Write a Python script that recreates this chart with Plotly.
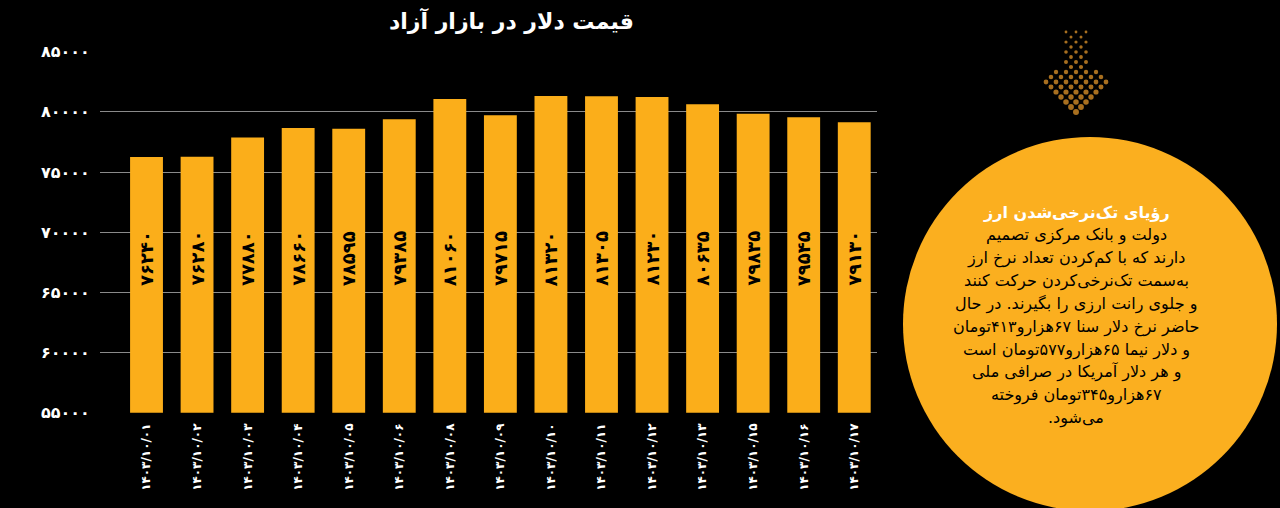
import plotly.graph_objects as go

W, H = 1280, 508

dates = ["۱۴۰۳/۱۰/۰۱", "۱۴۰۳/۱۰/۰۲", "۱۴۰۳/۱۰/۰۳", "۱۴۰۳/۱۰/۰۴", "۱۴۰۳/۱۰/۰۵",
         "۱۴۰۳/۱۰/۰۶", "۱۴۰۳/۱۰/۰۸", "۱۴۰۳/۱۰/۰۹", "۱۴۰۳/۱۰/۱۰", "۱۴۰۳/۱۰/۱۱",
         "۱۴۰۳/۱۰/۱۲", "۱۴۰۳/۱۰/۱۳", "۱۴۰۳/۱۰/۱۵", "۱۴۰۳/۱۰/۱۶", "۱۴۰۳/۱۰/۱۷"]
prices = [76240, 76280, 77880, 78660, 78595, 79385, 81060, 79715, 81320, 81305,
          81230, 80635, 79835, 79545, 79130]
y_ticks = [55000, 60000, 65000, 70000, 75000, 80000, 85000]

title_text = "قیمت دلار در بازار آزاد"
box_title = "رؤیای تک\u200cنرخی\u200cشدن ارز"
box_lines = [
    "دولت و بانک مرکزی تصمیم",
    "دارند که با کم\u200cکردن تعداد نرخ ارز",
    "به\u200cسمت تک\u200cنرخی\u200cکردن حرکت کنند",
    "و جلوی رانت ارزی را بگیرند. در حال",
    "حاضر نرخ دلار سنا ۶۷هزارو۴۱۳تومان",
    "و دلار نیما ۶۵هزارو۵۷۷تومان است",
    "و هر دلار آمریکا در صرافی ملی",
    "۶۷هزارو۳۴۵تومان فروخته",
    "می\u200cشود.",
]

FA = str.maketrans("0123456789", "۰۱۲۳۴۵۶۷۸۹")
def fa(n):
    return str(n).translate(FA)

def rtl(s):
    return "\u202b" + s + "\u202c"

BAR = "#FBAE1A"
FONT = "DejaVu Sans"

def px(x):
    return x / W
def py(y):
    return (H - y) / H

idx = list(range(len(prices)))

fig = go.Figure()
fig.add_trace(go.Bar(x=idx, y=prices, marker=dict(color=BAR, line=dict(width=0)),
                     hoverinfo="skip", showlegend=False))

# decorative dotted arrow
ax_pts, ay_pts, asz = [], [], []
cx = 1076
for j in range(0, 18):
    yy = 32 + 5 * j
    for k in range(-8, 9):
        if (k + j) % 2:
            continue
        xx = cx + 5 * k
        d = abs(xx - cx)
        inside = False
        if d <= 10 and yy <= 72:
            inside = True
        if yy >= 72:
            lim = min(25 + (yy - 72), 36 - max(0, yy - 82))
            if d <= lim:
                inside = True
        if inside:
            ax_pts.append(xx)
            ay_pts.append(yy)
            asz.append(2.8 + (yy - 32) / 86 * 3.4)
fig.add_trace(go.Scatter(x=ax_pts, y=ay_pts, mode="markers", xaxis="x2", yaxis="y2",
                         marker=dict(size=asz, color="#F09E2C", line=dict(width=0)),
                         hoverinfo="skip", showlegend=False))

fig.update_layout(
    width=W, height=H,
    paper_bgcolor="#000000", plot_bgcolor="#000000",
    margin=dict(l=0, r=0, t=0, b=0, autoexpand=False),
    bargap=0.35,
    font=dict(family=FONT, color="white"),
    xaxis=dict(domain=[px(100), px(877)], range=[-0.92, 14.45], automargin=False,
               tickmode="array", tickvals=idx, ticktext=dates, tickangle=-90,
               tickfont=dict(family=FONT, size=12, color="white", weight="bold"),
               showgrid=False, zeroline=False, showline=False,
               ticks="outside", ticklen=5, tickcolor="#000000"),
    yaxis=dict(domain=[py(412.7), py(51.7)], range=[55000, 85000], automargin=False,
               tickmode="array", tickvals=y_ticks, ticktext=[fa(v) for v in y_ticks],
               tickfont=dict(family=FONT, size=16, color="white", weight="bold"),
               showgrid=True, gridcolor="#8a8a8a", gridwidth=1,
               zeroline=False, showline=False,
               ticks="outside", ticklen=6, tickcolor="#000000"),
    xaxis2=dict(domain=[px(1030), px(1125)], range=[1030, 1125], visible=False,
                fixedrange=True, automargin=False),
    yaxis2=dict(domain=[py(125), py(25)], range=[125, 25], visible=False,
                fixedrange=True, automargin=False),
)

annotations = []
# title
annotations.append(dict(x=px(511), y=py(20), xref="paper", yref="paper",
                        text="<b>" + rtl(title_text) + "</b>", showarrow=False,
                        font=dict(family=FONT, size=22, color="white"),
                        xanchor="center", yanchor="middle"))
# bar labels
for i, v in enumerate(prices):
    annotations.append(dict(x=i, y=py(258.5), xref="x", yref="paper",
                            text="<b>" + fa(v) + "</b>", textangle=-90, showarrow=False,
                            font=dict(family=FONT, size=18, color="#000000"),
                            xanchor="center", yanchor="middle"))

# circle box
shapes = [dict(type="circle", xref="paper", yref="paper",
               x0=px(903), x1=px(1277), y0=py(137), y1=py(511),
               fillcolor="#FBAF1F", line=dict(width=0), layer="below")]

TX = 1076
annotations.append(dict(x=px(TX), y=py(212), xref="paper", yref="paper",
                        text="<b>" + rtl(box_title) + "</b>", showarrow=False,
                        font=dict(family=FONT, size=16, color="white"),
                        xanchor="center", yanchor="middle"))
for i, s in enumerate(box_lines):
    annotations.append(dict(x=px(TX), y=py(235 + i * 22.9), xref="paper", yref="paper",
                            text=rtl(s), showarrow=False,
                            font=dict(family=FONT, size=16, color="#000000"),
                            xanchor="center", yanchor="middle"))

fig.update_layout(annotations=annotations, shapes=shapes)

fig.write_html("out.html",
               config={"displayModeBar": False},
               post_script="document.body.style.margin='0';"
                           "document.body.style.background='#000';")
